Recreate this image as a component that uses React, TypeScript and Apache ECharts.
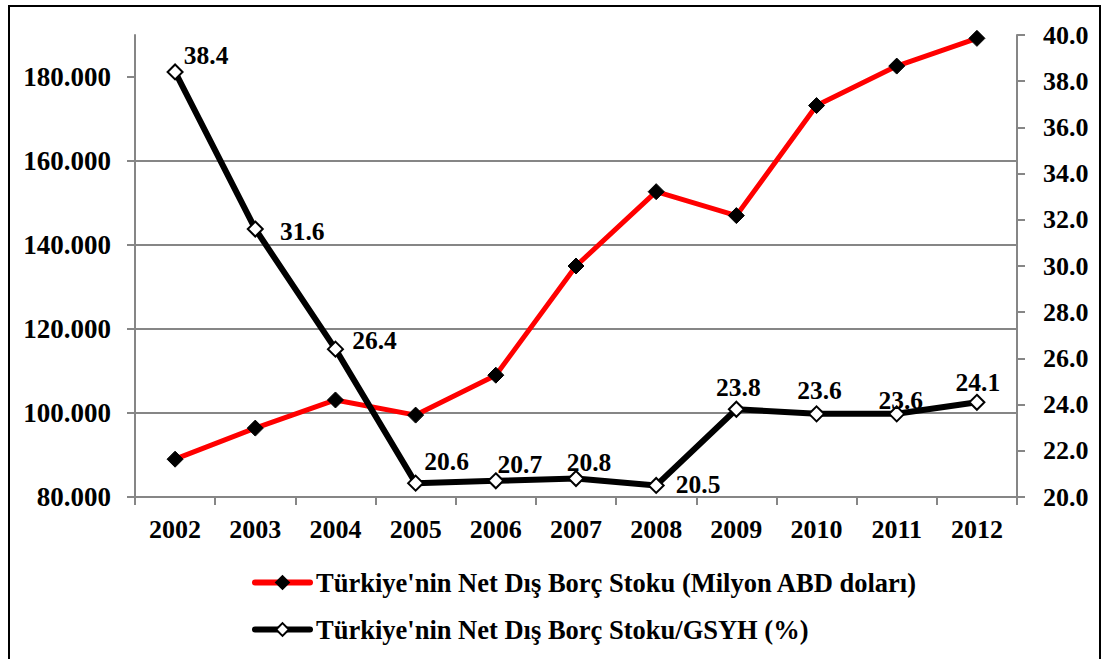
import React, { useEffect, useRef } from "react";
import * as echarts from "echarts";

const years = ["2002", "2003", "2004", "2005", "2006", "2007", "2008", "2009", "2010", "2011", "2012"];
const netDebt = [89000, 96400, 103100, 99500, 109000, 135000, 152700, 147000, 173200, 182600, 189200];
const debtToGdp = [38.4, 31.6, 26.4, 20.6, 20.7, 20.8, 20.5, 23.8, 23.6, 23.6, 24.1];
const leftTicks = [80000, 100000, 120000, 140000, 160000, 180000];
const seriesNames = [
  "Türkiye'nin Net Dış Borç Stoku (Milyon ABD doları)",
  "Türkiye'nin Net Dış Borç Stoku/GSYH (%)",
];
// label offsets (style only), relative to each point
const labelOffsets: [number, number][] = [
  [31, -16], [47, 2], [39, -9], [31, -22], [24, -16], [13, -16], [42, -1], [2, -22], [3, -23], [4, -13], [1, -20],
];

const FONT = "Liberation Serif";

function fmtThousands(v: number): string {
  return String(Math.round(v)).replace(/\B(?=(\d{3})+(?!\d))/g, ".");
}

export default function App() {
  const ref = useRef<HTMLDivElement>(null);
  useEffect(() => {
    if (!ref.current) return;
    const chart = echarts.init(ref.current, undefined, { renderer: "svg" });
    const axisGrey = "#868686";
    const labelStyle = { fontFamily: FONT, fontWeight: "bold" as const, fontSize: 26, color: "#000" };
    chart.setOption({
      animation: false,
      backgroundColor: "#fff",
      grid: { left: 135, right: 88, top: 35, bottom: 162, containLabel: false },
      graphic: [
        {
          type: "rect",
          shape: { x: 9, y: 6, width: 1091, height: 720 },
          style: { fill: "none", stroke: "#000", lineWidth: 2 },
          silent: true,
        },
      ],
      legend: {
        orient: "vertical",
        left: 247,
        top: 564,
        itemGap: 20,
        itemWidth: 55,
        itemHeight: 16,
        lineStyle: { width: 6, cap: "round" },
        textStyle: { ...labelStyle, fontSize: 26.5, padding: [0, 0, 0, 1] },
        data: seriesNames,
      },
      xAxis: {
        type: "category",
        data: years,
        boundaryGap: true,
        axisLine: { lineStyle: { color: axisGrey, width: 2 } },
        axisTick: { show: true, length: 8, alignWithLabel: false, lineStyle: { color: axisGrey, width: 2 } },
        axisLabel: { ...labelStyle, margin: 19 },
        splitLine: { show: false },
      },
      yAxis: [
        {
          type: "value",
          min: 80000,
          max: 190000,
          interval: 20000,
          axisLine: { show: true, lineStyle: { color: axisGrey, width: 2 } },
          axisTick: { show: true, length: 8, customValues: leftTicks, lineStyle: { color: axisGrey, width: 2 } },
          axisLabel: { ...labelStyle, fontSize: 27, margin: 24, customValues: leftTicks, formatter: (v: number) => fmtThousands(v) },
          splitLine: { show: true, showMaxLine: false, showMinLine: false, lineStyle: { color: axisGrey, width: 2 } },
        },
        {
          type: "value",
          min: 20,
          max: 40,
          interval: 2,
          position: "right",
          axisLine: { show: true, lineStyle: { color: axisGrey, width: 2 } },
          axisTick: { show: true, length: 8, lineStyle: { color: axisGrey, width: 2 } },
          axisLabel: { ...labelStyle, margin: 26, formatter: (v: number) => v.toFixed(1) },
          splitLine: { show: false },
        },
      ],
      series: [
        {
          name: seriesNames[0],
          type: "line",
          yAxisIndex: 0,
          data: netDebt,
          symbol: "diamond",
          symbolSize: 16,
          lineStyle: { color: "#ff0000", width: 5 },
          itemStyle: { color: "#000", borderColor: "#000", borderWidth: 1 },
          emphasis: { disabled: true },
          z: 2,
        },
        {
          name: seriesNames[1],
          type: "line",
          yAxisIndex: 1,
          data: debtToGdp.map((v, i) => ({
            value: v,
            label: { offset: labelOffsets[i] },
          })),
          symbol: "diamond",
          symbolSize: 15,
          showAllSymbol: true,
          lineStyle: { color: "#000", width: 6 },
          itemStyle: { color: "#fff", borderColor: "#000", borderWidth: 2 },
          label: {
            show: true,
            position: "inside",
            ...labelStyle,
            fontSize: 25.5,
            formatter: (p: any) => Number(p.value).toFixed(1),
          },
          emphasis: { disabled: true },
          z: 3,
        },
      ],
    });
    return () => chart.dispose();
  }, []);
  return (
    <div
      ref={ref}
      style={{ position: "fixed", left: 0, top: 0, width: 1105, height: 659, background: "#fff" }}
    />
  );
}
